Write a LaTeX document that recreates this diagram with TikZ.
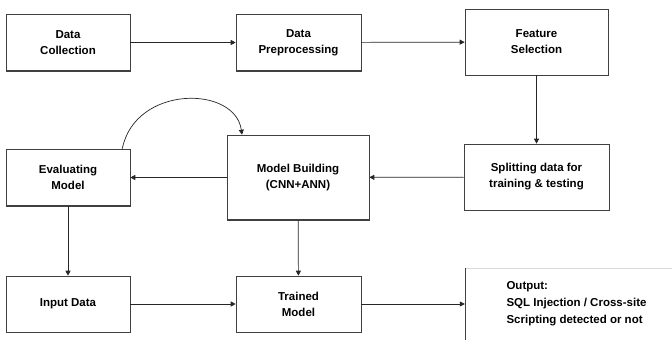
\documentclass[tikz,border=0pt]{standalone}
\usepackage{fontspec}
\setmainfont{Liberation Sans}
\usetikzlibrary{arrows.meta}
\begin{document}
\begin{tikzpicture}[x=1pt,y=-1pt,
  box/.style={draw=black!75, line width=0.6pt, fill=white, align=center,
    inner sep=2pt, font=\bfseries\fontsize{11.5}{16}\selectfont},
  flow/.style={draw=black!85, line width=0.7pt, -{Triangle[length=5pt,width=5pt]}},
  shadowline/.style={draw=black!75, line width=1.8pt}]
\useasboundingbox (0,0) rectangle (672,340);
\fill[white] (0,0) rectangle (672,340);

% top row
\node[box, minimum width=124pt, minimum height=57pt] (dc) at (68,42.5) {Data\\Collection};
\node[box, minimum width=125pt, minimum height=57pt] (dp) at (298.5,42.5) {Data\\Preprocessing};
\node[box, minimum width=143pt, minimum height=66pt] (fs) at (536.5,42) {Feature\\Selection};

% middle row
\node[box, minimum width=145pt, minimum height=66pt] (sp) at (536.5,177) {Splitting data for\\training \& testing};
\node[box, minimum width=142pt, minimum height=85pt] (mb) at (298,177.5) {Model Building\\(CNN+ANN)};
\node[box, minimum width=124pt, minimum height=57pt] (ev) at (68,177.5) {Evaluating\\Model};

% bottom row
\node[box, minimum width=124pt, minimum height=56pt] (in) at (68,304) {Input Data};
\node[box, minimum width=125pt, minimum height=56pt] (tm) at (298.5,304) {Trained\\Model};
\node[minimum width=207pt, minimum height=72pt, inner sep=0pt] (out) at (568.5,304) {};
\draw[black!15, line width=0.6pt] (out.north west) -- (out.north east);
\draw[black!75, line width=0.6pt] (out.north west) -- (out.south west);
\node[anchor=west, align=left, font=\bfseries\fontsize{11.5}{17}\selectfont] (outtext) at (503,304)
  {Output:\\SQL Injection / Cross-site\\Scripting detected or not};

% heavier bottom edges
\foreach \n in {dc,dp,ev,mb}
  \draw[shadowline] ([xshift=0.5pt]\n.south west) -- ([xshift=0.5pt]\n.south east);

% connectors
\draw[flow] (dc) -- (dp);
\draw[flow] (dp) -- (fs);
\draw[flow] (fs) -- (sp);
\draw[flow] (sp) -- (mb);
\draw[flow] (mb) -- (ev);
\draw[flow] (ev) -- (in);
\draw[flow] (mb) -- (tm);
\draw[flow] (in) -- (tm);
\draw[flow] (tm) -- (out.west);
\draw[flow] ([xshift=-8pt]ev.north east) .. controls (135,85) and (235,85) .. ([xshift=-56pt]mb.north);
\end{tikzpicture}
\end{document}
